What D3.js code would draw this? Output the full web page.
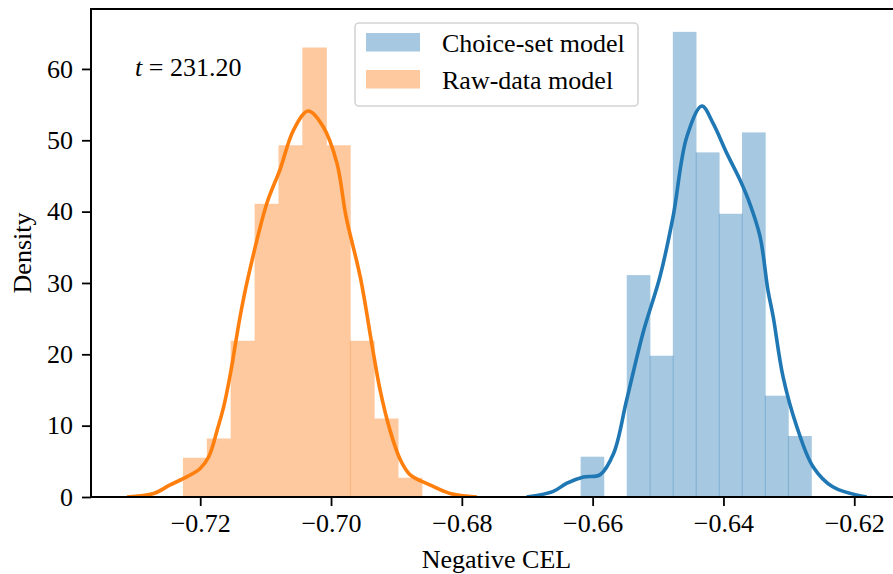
<!DOCTYPE html>
<html>
<head>
<meta charset="utf-8">
<script src="https://cdn.jsdelivr.net/npm/d3@7"></script>
<style>
  body { margin: 0; background: #fff; }
  svg { display: block; font-family: "Liberation Serif", "Times New Roman", serif; }
</style>
</head>
<body>
<svg id="chart" width="893" height="574"></svg>
<script>
// histogram bins (left edges + last right edge) and densities
const choiceEdges = [-0.66179, -0.65827, -0.65474, -0.65122, -0.64769, -0.64417, -0.64064, -0.63712, -0.63359, -0.63007, -0.62654];
const choiceDensity = [5.65, 0, 31.1, 19.8, 65.2, 48.3, 39.7, 51.1, 14.2, 8.55];
const rawEdges = [-0.7226, -0.71895, -0.7153, -0.71164, -0.70799, -0.70434, -0.70069, -0.69704, -0.69338, -0.68973, -0.68608];
const rawDensity = [5.5, 8.2, 21.9, 41.1, 49.3, 63.0, 49.3, 21.9, 11.0, 2.7];

// kde curves: [value, density]
const choiceKde = [
  [-0.6701, 0], [-0.6661, 0.75], [-0.6640, 1.9], [-0.6614, 2.8], [-0.6589, 3.1],
  [-0.6568, 6.1], [-0.6548, 13.6], [-0.6523, 23.0], [-0.6497, 30.9], [-0.6477, 39.3],
  [-0.6456, 50.5], [-0.6433, 54.8], [-0.6416, 52.4], [-0.6395, 48.2], [-0.6375, 44.5],
  [-0.6360, 41.2], [-0.6344, 36.5], [-0.6332, 29.0], [-0.6324, 25.3], [-0.6309, 16.9],
  [-0.6288, 9.9], [-0.6263, 4.25], [-0.6233, 1.44], [-0.6181, 0]
];
const rawKde = [
  [-0.7312, 0], [-0.7271, 0.5], [-0.7246, 1.7], [-0.7220, 2.85], [-0.7200, 4.0],
  [-0.7187, 5.65], [-0.7174, 9.4], [-0.7164, 12.7], [-0.7154, 17.2], [-0.7139, 25.3],
  [-0.7127, 30.7], [-0.7098, 41.2], [-0.7078, 45.9], [-0.7057, 51.5], [-0.7035, 54.1],
  [-0.7012, 51.9], [-0.6991, 46.8], [-0.6977, 39.3], [-0.6955, 30.7], [-0.6937, 21.1],
  [-0.6925, 15.0], [-0.6910, 9.4], [-0.6894, 5.2], [-0.6879, 3.1], [-0.6849, 1.7],
  [-0.6818, 0.5], [-0.6777, 0]
];
const rawSeams = [7];

const xTicks = [-0.72, -0.70, -0.68, -0.66, -0.64, -0.62];
const yTicks = [0, 10, 20, 30, 40, 50, 60];
const legendLabels = ["Choice-set model", "Raw-data model"];
const tStat = "231.20";

const margin = {left: 91, top: 9, right: 902, bottom: 497};
const svg = d3.select('#chart');

const x = d3.scaleLinear().domain([-0.7367, -0.6127]).range([margin.left, margin.right]);
const y = d3.scaleLinear().domain([0, 68.4]).range([margin.bottom, margin.top]);

svg.append('clipPath').attr('id', 'plot-clip')
  .append('rect')
  .attr('x', margin.left).attr('y', margin.top)
  .attr('width', margin.right - margin.left).attr('height', margin.bottom - margin.top);

const plot = svg.append('g').attr('clip-path', 'url(#plot-clip)');

const series = [
  {edges: choiceEdges, dens: choiceDensity, kde: choiceKde, fill: '#a6c8e0', seam: '#7eaed3', line: '#1f77b4',
   seams: d3.range(1, choiceDensity.length)},
  {edges: rawEdges, dens: rawDensity, kde: rawKde, fill: '#fec99e', seam: '#fab37c', line: '#ff7f0e',
   seams: rawSeams}
];

series.forEach(s => {
  const bins = s.dens.map((d, i) => ({x0: s.edges[i], x1: s.edges[i + 1], d}));
  // bars overlap by a hair so no light seams show between them
  plot.append('g').selectAll('rect')
    .data(bins.filter(b => b.d > 0))
    .join('rect')
      .attr('x', b => x(b.x0) - 0.3)
      .attr('width', b => x(b.x1) - x(b.x0) + 0.6)
      .attr('y', b => y(b.d))
      .attr('height', b => y(0) - y(b.d))
      .attr('fill', s.fill);

  // thin darker seams where neighbouring bars overlap
  plot.append('g').selectAll('line')
    .data(s.seams.filter(i => s.dens[i - 1] > 0 && s.dens[i] > 0))
    .join('line')
      .attr('x1', i => x(s.edges[i])).attr('x2', i => x(s.edges[i]))
      .attr('y1', y(0))
      .attr('y2', i => y(Math.min(s.dens[i - 1], s.dens[i])))
      .attr('stroke', s.seam)
      .attr('stroke-width', 1);
});

const line = d3.line().x(d => x(d[0])).y(d => y(d[1])).curve(d3.curveCatmullRom.alpha(0.5));
series.forEach(s => {
  plot.append('path')
    .datum(s.kde)
    .attr('d', line)
    .attr('fill', 'none')
    .attr('stroke', s.line)
    .attr('stroke-width', 3.6)
    .attr('stroke-linejoin', 'round');
});

// axes
const xAxis = svg.append('g')
  .attr('transform', `translate(0,${margin.bottom})`)
  .call(d3.axisBottom(x).tickValues(xTicks).tickFormat(d3.format('.2f')).tickSize(9).tickPadding(8));
const yAxis = svg.append('g')
  .attr('transform', `translate(${margin.left},0)`)
  .call(d3.axisLeft(y).tickValues(yTicks).tickSize(9).tickPadding(9));

[xAxis, yAxis].forEach(a => {
  a.select('.domain').remove();
  a.selectAll('.tick line').attr('stroke', '#000').attr('stroke-width', 1.8);
  a.selectAll('.tick text').attr('fill', '#000')
    .style('font-family', '"Liberation Serif", serif').style('font-size', '26px');
});

// frame
svg.append('rect')
  .attr('x', margin.left).attr('y', margin.top)
  .attr('width', margin.right - margin.left).attr('height', margin.bottom - margin.top)
  .attr('fill', 'none').attr('stroke', '#000').attr('stroke-width', 2);

// axis titles
svg.append('text')
  .attr('x', (margin.left + margin.right) / 2).attr('y', 568)
  .attr('text-anchor', 'middle').style('font-size', '26px')
  .text('Negative CEL');
svg.append('text')
  .attr('transform', `translate(31,${(margin.top + margin.bottom) / 2}) rotate(-90)`)
  .attr('text-anchor', 'middle').style('font-size', '26px')
  .text('Density');

// t statistic
const tText = svg.append('text').attr('x', 135).attr('y', 76).style('font-size', '26px');
tText.append('tspan').style('font-style', 'italic').text('t');
tText.append('tspan').text(` = ${tStat}`);

// legend
const legend = svg.append('g');
legend.append('rect')
  .attr('x', 355).attr('y', 23).attr('width', 283).attr('height', 83)
  .attr('rx', 4).attr('fill', '#fff').attr('fill-opacity', 0.8)
  .attr('stroke', '#d4d4d4').attr('stroke-width', 1.6);
const items = legend.selectAll('g.item')
  .data(legendLabels)
  .join('g')
  .attr('class', 'item')
  .attr('transform', (d, i) => `translate(366,${33 + i * 37})`);
items.append('rect')
  .attr('width', 54).attr('height', 18.5)
  .attr('fill', (d, i) => series[i].fill);
items.append('text')
  .attr('x', 76).attr('y', 18.5)
  .style('font-size', '26px')
  .text(d => d);
</script>
</body>
</html>
